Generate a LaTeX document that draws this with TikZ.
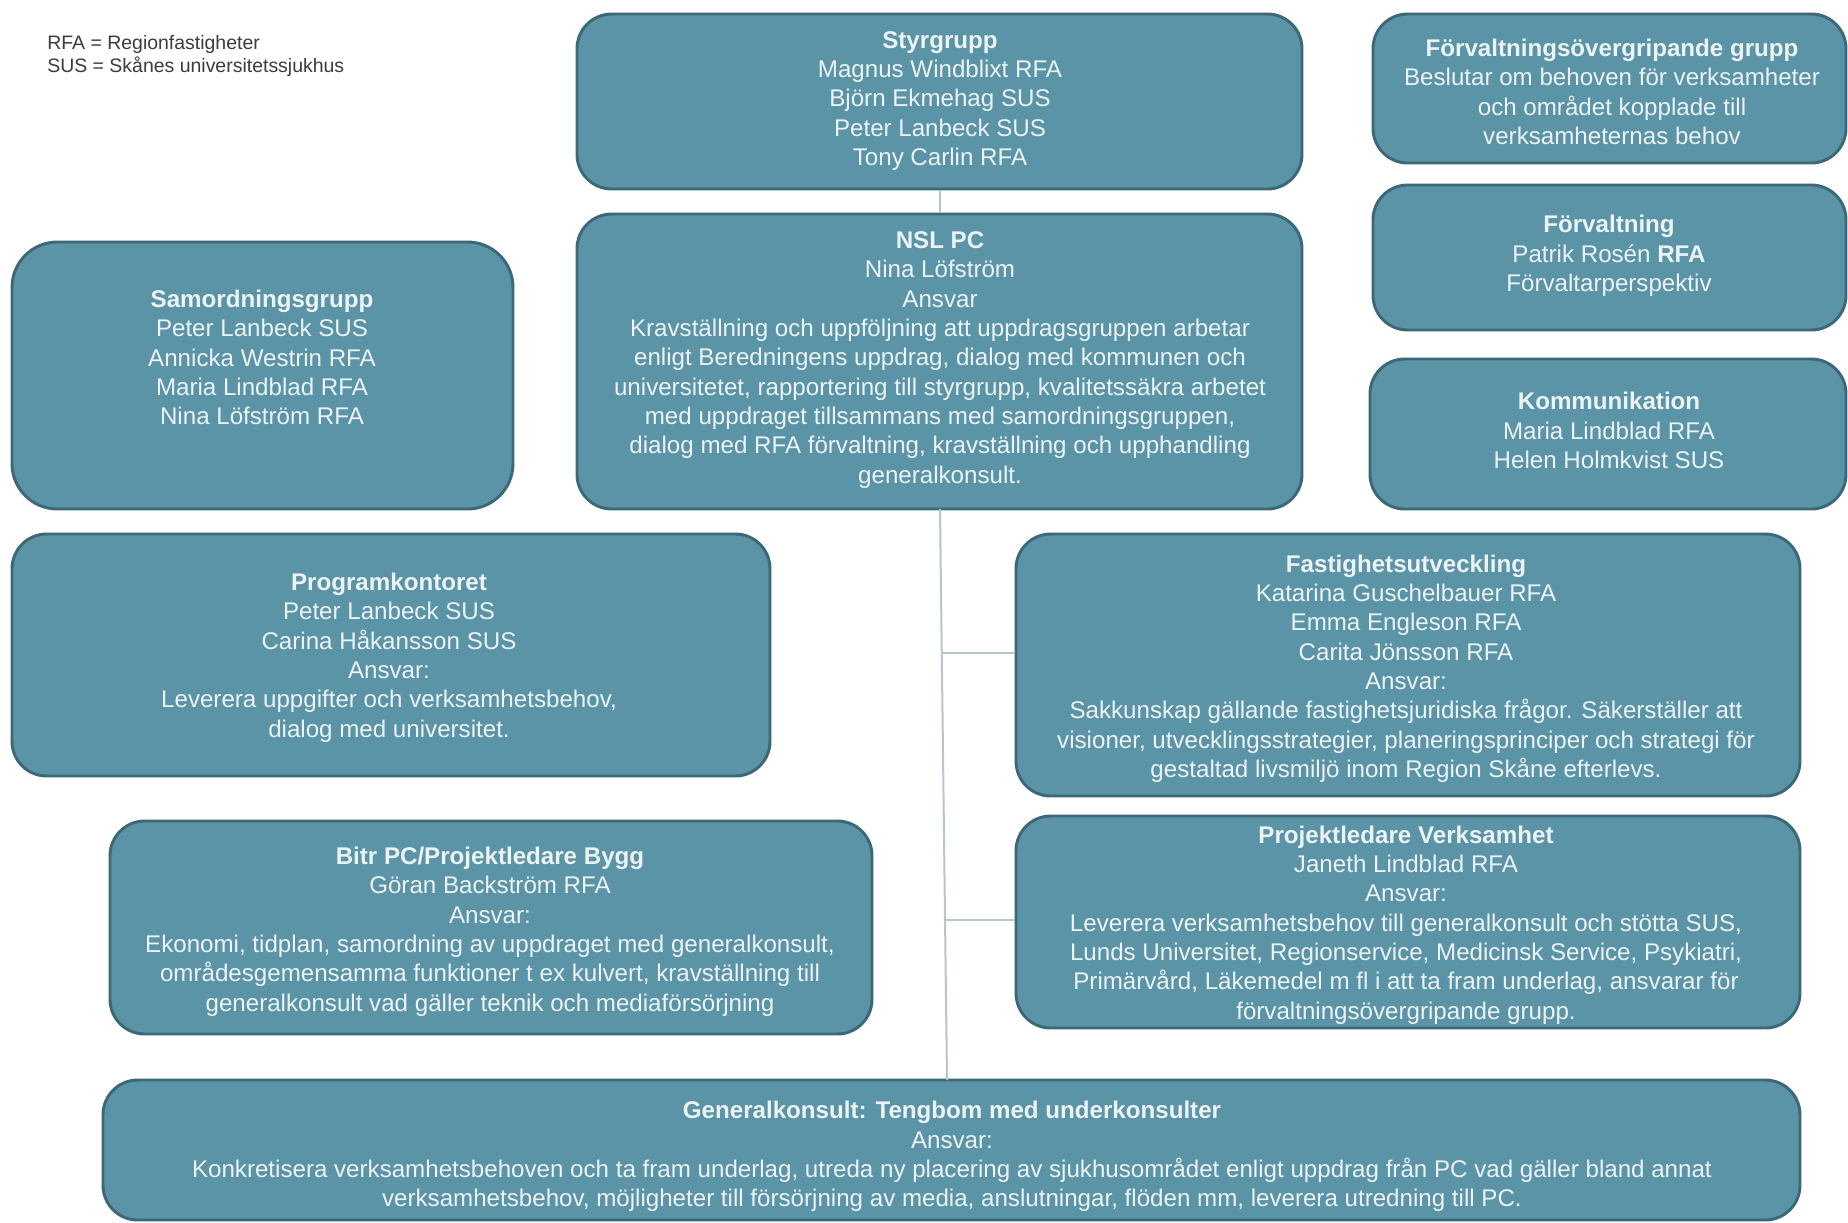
\documentclass[tikz,border=0pt]{standalone}
\usepackage{fontspec}
\setmainfont{Liberation Sans}
\usetikzlibrary{fit,calc}
\definecolor{boxfill}{RGB}{90,148,166}
\definecolor{boxline}{RGB}{60,104,120}
\definecolor{txtcol}{RGB}{236,243,245}
\definecolor{connc}{RGB}{184,198,203}
\definecolor{legc}{RGB}{60,60,60}
\tikzset{
  box/.style={draw=boxline, fill=boxfill, line width=2.2pt, rounded corners=26pt, inner sep=0pt},
  txt/.style={text=txtcol, align=center, font=\fontsize{18.1}{22}\selectfont, inner sep=0pt},
  legend/.style={text=legc, align=left, anchor=west, font=\fontsize{14.6}{17.7}\selectfont, inner sep=0pt},
  conn/.style={draw=connc, line width=1.5pt}
}
\begin{document}
\begin{tikzpicture}[x=0.75pt,y=-0.75pt]
\useasboundingbox[fill=white] (0,0) rectangle (1848,1222);

% legend
\node[legend] (leg) at (47,56) {RFA = Regionfastigheter\\SUS = Skånes universitetssjukhus};

% boxes
\node[box, fit={(577,14) (1302,189)}] (sty) {};
\node[box, fit={(1373,14) (1846,163)}] (fog) {};
\node[box, fit={(1373,185) (1846,330)}] (forv) {};
\node[box, fit={(1370,359) (1846,509)}] (komm) {};
\node[box, rounded corners=34pt, fit={(12,242) (513,509)}] (samo) {};
\node[box, fit={(577,214) (1302,509)}] (nsl) {};
\node[box, fit={(12,534) (770,776)}] (prog) {};
\node[box, fit={(1016,534) (1800,796)}] (fast) {};
\node[box, fit={(110,821) (872,1034)}] (bitr) {};
\node[box, fit={(1016,816) (1800,1028)}] (pv) {};
\node[box, fit={(103,1080) (1800,1220)}] (gk) {};

% connectors
\coordinate (nslb) at (940,509);
\coordinate (gktop) at (947,1080);
\coordinate (br1) at (942,653);
\coordinate (br2) at (945,920);
\draw[conn] (sty.south) -- (nsl.north);
\draw[conn] (nslb) -- (gktop);
\draw[conn] (br1) -- (br1 -| fast.west);
\draw[conn] (br2) -- (br2 -| pv.west);

% texts
\node[txt] (sty-t) at (940,101) {\textbf{Styrgrupp}\\Magnus Windblixt RFA\\Björn Ekmehag SUS\\Peter Lanbeck SUS\\Tony Carlin RFA};
\node[txt] (fog-t) at (1612,92) {\textbf{Förvaltningsövergripande grupp}\\Beslutar om behoven  för verksamheter\\och området kopplade till\\verksamheternas behov};
\node[txt] (forv-t) at (1609,256) {\textbf{Förvaltning}\\Patrik Rosén \textbf{RFA}\\Förvaltarperspektiv};
\node[txt] (komm-t) at (1609,430.5) {\textbf{Kommunikation}\\Maria Lindblad RFA\\Helen Holmkvist SUS};
\node[txt] (samo-t) at (262,357.5) {\textbf{Samordningsgrupp}\\Peter Lanbeck SUS\\Annicka Westrin RFA\\Maria Lindblad RFA\\Nina Löfström RFA};
\node[txt] (nsl-t) at (940,360) {\textbf{NSL PC}\\Nina Löfström\\Ansvar\\Kravställning  och uppföljning  att uppdragsgruppen  arbetar\\enligt Beredningens  uppdrag, dialog med kommunen och\\universitetet,  rapportering  till styrgrupp, kvalitetssäkra arbetet\\med uppdraget  tillsammans med  samordningsgruppen,\\dialog med RFA förvaltning,  kravställning  och upphandling\\generalkonsult.};
\node[txt] (prog-t) at (389,657.5) {\textbf{Programkontoret}\\Peter Lanbeck SUS\\Carina Håkansson SUS\\Ansvar:\\Leverera  uppgifter  och verksamhetsbehov,\\dialog med universitet.};
\node[txt] (fast-t) at (1406,668.5) {\textbf{Fastighetsutveckling}\\Katarina Guschelbauer  RFA\\Emma Engleson RFA\\Carita Jönsson RFA\\Ansvar:\\Sakkunskap gällande  fastighetsjuridiska  frågor.  Säkerställer att\\visioner,  utvecklingsstrategier,  planeringsprinciper  och strategi för\\gestaltad livsmiljö  inom Region  Skåne efterlevs.};
\node[txt] (bitr-t) at (490,931.5) {\textbf{Bitr PC/Projektledare Bygg}\\Göran Backström RFA\\Ansvar:\\Ekonomi, tidplan, samordning av uppdraget  med generalkonsult,\\områdesgemensamma  funktioner  t ex kulvert,  kravställning  till\\generalkonsult  vad  gäller teknik och mediaförsörjning};
\node[txt] (pv-t) at (1406,925) {\textbf{Projektledare Verksamhet}\\Janeth Lindblad  RFA\\Ansvar:\\Leverera  verksamhetsbehov  till generalkonsult  och stötta SUS,\\Lunds Universitet,  Regionservice,  Medicinsk Service,  Psykiatri,\\Primärvård,  Läkemedel  m fl i att ta fram underlag,  ansvarar  för\\förvaltningsövergripande   grupp.};
\node[txt] (gk-t) at (952,1156.5) {\textbf{Generalkonsult:  Tengbom med underkonsulter}\\Ansvar:\\Konkretisera verksamhetsbehoven  och ta fram underlag,  utreda ny placering av sjukhusområdet  enligt uppdrag från PC vad gäller  bland annat\\verksamhetsbehov,  möjligheter till försörjning  av media, anslutningar,  flöden  mm, leverera  utredning till PC.};
\end{tikzpicture}
\end{document}
